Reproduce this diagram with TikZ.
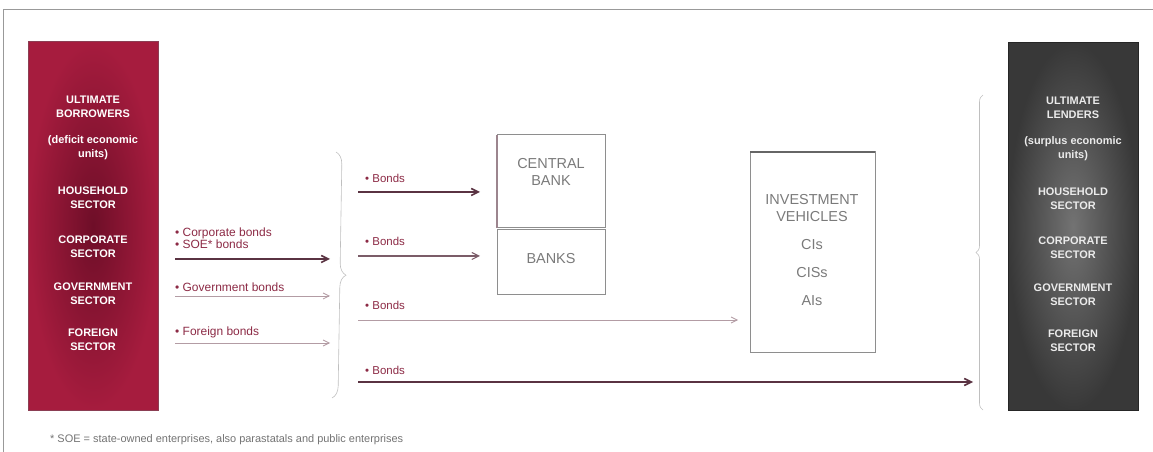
\documentclass[tikz,border=0pt]{standalone}
\usepackage{fontspec}
\setmainfont{Liberation Sans}
\usetikzlibrary{arrows.meta,decorations.pathreplacing}
\definecolor{crim}{HTML}{A61C3E}
\definecolor{crimdark}{HTML}{6E0E28}
\definecolor{lab}{HTML}{8C2A45}
\definecolor{boxtxt}{HTML}{7A7A7A}
\definecolor{boxline}{HTML}{8E8E8E}
\definecolor{darkarr}{HTML}{5A3342}
\definecolor{lightarr}{HTML}{B39CA4}
\tikzset{
  sidetxt/.style={text=white,font=\bfseries\fontsize{11}{14}\selectfont,align=center,inner sep=0pt},
  midtxt/.style={text=boxtxt,font=\fontsize{14.5}{16.5}\selectfont,align=center,inner sep=0pt},
  labtxt/.style={text=lab,font=\fontsize{12}{12.5}\selectfont,align=left,inner sep=0pt,anchor=west},
  bondtxt/.style={labtxt,font=\fontsize{11.5}{12.5}\selectfont},
  heavyarrow/.style={draw=darkarr,line width=1.6pt,-{Straight Barb[length=7bp,width=7bp]}},
  midarrow/.style={draw=darkarr!80,line width=1.1pt,-{Straight Barb[length=7bp,width=7bp]}},
  lightarrow/.style={draw=lightarr,line width=0.8pt,-{Straight Barb[length=6bp,width=6bp]}},
  midbox/.style={draw=boxline,line width=1pt},
  bracestyle/.style={draw=black!25,line width=0.6pt,decorate},
}
\begin{document}
\begin{tikzpicture}[x=1bp,y=-1bp]
\useasboundingbox (0,0) rectangle (1153,452);
% frame
\draw[draw=black!40,line width=1pt] (3,452) -- (3,10) -- (1153,10);
% left box
\shade[inner color=crimdark,outer color=crim] (28,42) rectangle (158,410);
\draw[crimdark!80,line width=1pt] (28,42) rectangle (158,410);
\node (lb) at (93,226) [minimum width=130bp,minimum height=368bp,inner sep=0pt] {};
\node[sidetxt] (l1) at (93,107) {ULTIMATE\\BORROWERS};
\node[sidetxt] (l2) at (93,148) {(deficit economic\\units)};
\node[sidetxt] (l3) at (93,198) {HOUSEHOLD\\SECTOR};
\node[sidetxt] (l4) at (93,247) {CORPORATE\\SECTOR};
\node[sidetxt] (l5) at (93,294) {GOVERNMENT\\SECTOR};
\node[sidetxt] (l6) at (93,340) {FOREIGN\\SECTOR};
% right box
\shade[inner color=black!55,outer color=black!78] (1008,43) rectangle (1138,410);
\draw[black!85,line width=1pt] (1008,43) rectangle (1138,410);
\node (rb) at (1073,226) [minimum width=130bp,minimum height=367bp,inner sep=0pt] {};
\node[sidetxt,text=black!8] (r1) at (1073,108) {ULTIMATE\\LENDERS};
\node[sidetxt,text=black!8] (r2) at (1073,149) {(surplus economic\\units)};
\node[sidetxt,text=black!8] (r3) at (1073,199) {HOUSEHOLD\\SECTOR};
\node[sidetxt,text=black!8] (r4) at (1073,248) {CORPORATE\\SECTOR};
\node[sidetxt,text=black!8] (r5) at (1073,295) {GOVERNMENT\\SECTOR};
\node[sidetxt,text=black!8] (r6) at (1073,341) {FOREIGN\\SECTOR};
% middle boxes
\draw[midbox] (497,135) rectangle (605,228);
\draw[darkarr!60,line width=1.2pt] (497,135) -- (497,228);
\node[midtxt] (cb) at (551,172) {CENTRAL\\BANK};
\draw[midbox] (497,230) rectangle (605,295);
\node[midtxt] (bk) at (551,259) {BANKS};
\draw[midbox] (750,152) rectangle (875,352);
\draw[black!60,line width=1.2pt] (750,152) -- (875,152);
\node[midtxt] (iv) at (812,208) {INVESTMENT\\VEHICLES};
\node[midtxt] (ci) at (812,245) {CIs};
\node[midtxt] (cis) at (812,273) {CISs};
\node[midtxt] (ai) at (812,301) {AIs};
% left side labels and arrows
\coordinate (a1s) at (175,259); \coordinate (a1e) at (330,259);
\coordinate (a2s) at (175,296); \coordinate (a2e) at (330,296);
\coordinate (a3s) at (175,343); \coordinate (a3e) at (330,343);
\node[labtxt] (t1) at (175,238) {\textbullet\ Corporate bonds\\\textbullet\ SOE* bonds};
\node[labtxt] (t2) at (175,287) {\textbullet\ Government bonds};
\node[labtxt] (t3) at (175,332) {\textbullet\ Foreign bonds};
\draw[heavyarrow] (a1s) -- (a1e);
\draw[lightarrow] (a2s) -- (a2e);
\draw[lightarrow] (a3s) -- (a3e);
% brace
\coordinate (bt) at (336,152); \coordinate (bb) at (332,398);
\draw[bracestyle,decoration={brace,amplitude=12bp}] (bt) -- (bb);
% bonds arrows
\coordinate (b1s) at (358,192); \coordinate (b1e) at (480,192);
\coordinate (b2s) at (358,256); \coordinate (b2e) at (480,256);
\coordinate (b3s) at (358,320); \coordinate (b3e) at (738,320);
\coordinate (b4s) at (358,382); \coordinate (b4e) at (973,382);
\node[bondtxt] (u1) at (365,178) {\textbullet\ Bonds};
\node[bondtxt] (u2) at (365,241) {\textbullet\ Bonds};
\node[bondtxt] (u3) at (365,305) {\textbullet\ Bonds};
\node[bondtxt] (u4) at (365,370) {\textbullet\ Bonds};
\draw[heavyarrow] (b1s) -- (b1e);
\draw[midarrow] (b2s) -- (b2e);
\draw[lightarrow] (b3s) -- (b3e);
\draw[heavyarrow] (b4s) -- (b4e);
% right brace
\coordinate (rt) at (983,95); \coordinate (rbt) at (983,410);
\draw[bracestyle,decoration={brace,amplitude=7bp}] (rbt) -- (rt);
% footnote
\node[text=black!55,font=\fontsize{11}{12}\selectfont,anchor=west,inner sep=0pt] (fn) at (50,440) {* SOE = state-owned enterprises, also parastatals and public enterprises};
\end{tikzpicture}
\end{document}
